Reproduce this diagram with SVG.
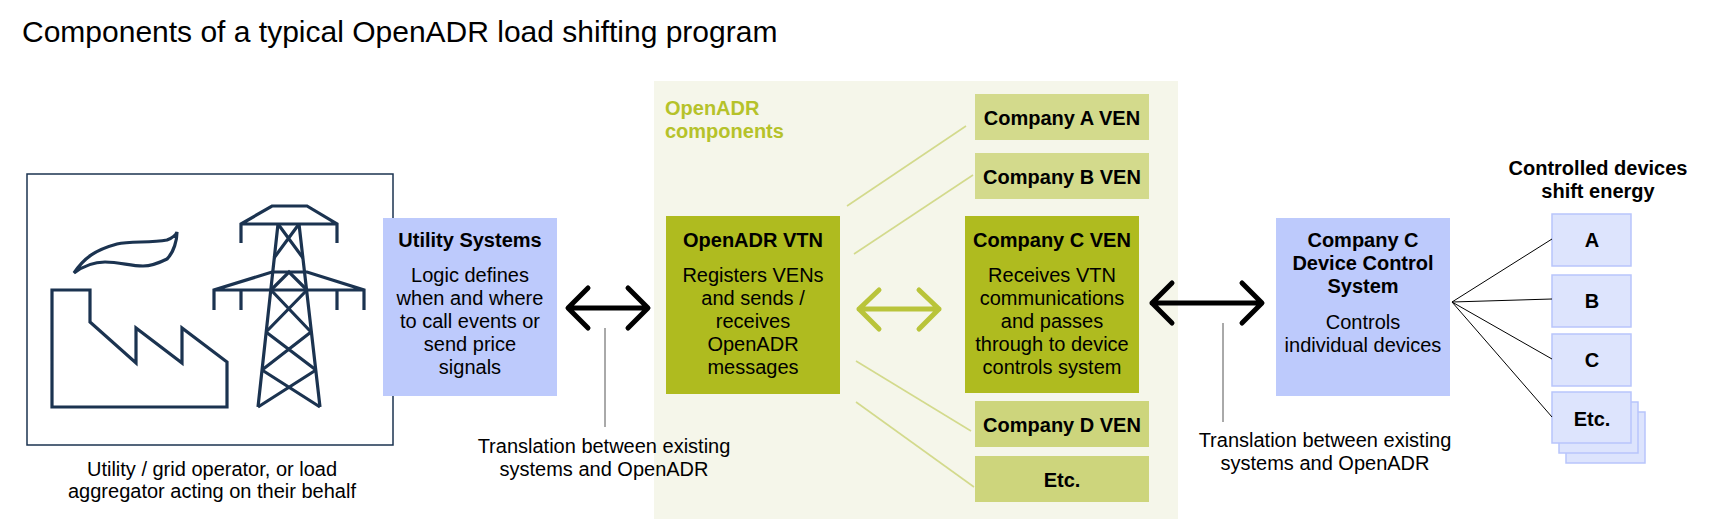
<svg xmlns="http://www.w3.org/2000/svg" width="1709" height="532" viewBox="0 0 1709 532">
<style>
text{font-family:"Liberation Sans",Arial,sans-serif;fill:#000;}
.t{font-size:20px;text-anchor:middle;}
.b{font-size:20px;font-weight:bold;text-anchor:middle;}
.icon{fill:none;stroke:#1b3350;stroke-width:3.2;stroke-linejoin:miter;}
.blue{fill:#bdcafc;}
.dark{fill:#afbb1f;}
.lightA{fill:#d3da8c;}
.lightD{fill:#cdd57c;}
.dev{fill:#dde4fd;stroke:#b8c5fb;stroke-width:1.5;}
.arrow{fill:none;stroke:#000;stroke-width:5;stroke-linecap:round;stroke-linejoin:round;}
.garrow{fill:none;stroke:#b9c43a;stroke-width:5;stroke-linecap:round;stroke-linejoin:round;}
.gline{stroke:#d3da8c;stroke-width:1.6;fill:none;}
.kline{stroke:#000;stroke-width:1;fill:none;}
.lead{stroke:#555;stroke-width:1;fill:none;}
</style>
<rect width="1709" height="532" fill="#fff"/>
<text x="22" y="42" style="font-size:30px;">Components of a typical OpenADR load shifting program</text>

<g id="openadr-region">
<rect x="654" y="81" width="524" height="438" fill="#f5f6ea"/>
<text x="665" y="115" style="font-size:20px;font-weight:bold;fill:#b5c22a;">OpenADR</text>
<text x="665" y="138" style="font-size:20px;font-weight:bold;fill:#b5c22a;">components</text>
</g>

<g id="utility-operator">
<rect x="27" y="174" width="366" height="271" fill="#fff" stroke="#1b3350" stroke-width="1.5"/>
<path class="icon" d="M52,290 L90,290 L90,322 L136,363 L136,328 L182,363 L182,328 L227,362 L227,407 L52,407 Z"/>
<path class="icon" stroke-width="2.2" d="M74,273 C84,258 95,250 117,244 C130,241 150,243 167,240 C172,238 176,235 177,232 C177,240 174,252 167,259 C157,264 148,266 143,266 C130,266 120,262 105,262 C92,262 82,267 74,273 Z"/>
<path class="icon" d="M241,243 L241,224 L272,206 L307,206 L337,224 L337,243 M241,224 L337,224"/>
<path class="icon" d="M214,310 L214,290 L272,272 L307,272 L364,290 L364,310 M214,290 L364,290 M241,290 L241,310 M337,290 L337,310"/>
<path class="icon" d="M278,224 L258,407 M299,224 L320,407"/>
<path class="icon" d="M278,224 L303,258 M299,224 L274,258 M271,290 L289,272 L307,290 M271,290 L311,332 M307,290 L266,332 M266,332 L316,370 M311,332 L262,370 M262,370 L320,407 M316,370 L258,407"/>
<text class="t" x="212" y="476">Utility / grid operator, or load</text>
<text class="t" x="212" y="498">aggregator acting on their behalf</text>
</g>

<g id="utility-systems">
<rect class="blue" x="383" y="218" width="174" height="178"/>
<text class="b" x="470" y="247">Utility Systems</text>
<text class="t" x="470" y="282">Logic defines</text>
<text class="t" x="470" y="305">when and where</text>
<text class="t" x="470" y="328">to call events or</text>
<text class="t" x="470" y="351">send price</text>
<text class="t" x="470" y="374">signals</text>
</g>

<g id="openadr-vtn">
<rect class="dark" x="666" y="216" width="174" height="178"/>
<text class="b" x="753" y="247">OpenADR VTN</text>
<text class="t" x="753" y="282">Registers VENs</text>
<text class="t" x="753" y="305">and sends /</text>
<text class="t" x="753" y="328">receives</text>
<text class="t" x="753" y="351">OpenADR</text>
<text class="t" x="753" y="374">messages</text>
</g>

<g id="company-a-ven">
<rect class="lightA" x="975" y="94" width="174" height="46"/>
<text class="b" x="1062" y="125">Company A VEN</text>
</g>
<g id="company-b-ven">
<rect class="lightA" x="975" y="153" width="174" height="46"/>
<text class="b" x="1062" y="184">Company B VEN</text>
</g>
<g id="company-c-ven">
<rect class="dark" x="965" y="216" width="174" height="177"/>
<text class="b" x="1052" y="247">Company C VEN</text>
<text class="t" x="1052" y="282">Receives VTN</text>
<text class="t" x="1052" y="305">communications</text>
<text class="t" x="1052" y="328">and passes</text>
<text class="t" x="1052" y="351">through to device</text>
<text class="t" x="1052" y="374">controls system</text>
</g>
<g id="company-d-ven">
<rect class="lightD" x="975" y="401" width="174" height="46"/>
<text class="b" x="1062" y="432">Company D VEN</text>
</g>
<g id="etc-ven">
<rect class="lightD" x="975" y="456" width="174" height="46"/>
<text class="b" x="1062" y="487">Etc.</text>
</g>

<g id="device-control-system">
<rect class="blue" x="1276" y="218" width="174" height="178"/>
<text class="b" x="1363" y="247">Company C</text>
<text class="b" x="1363" y="270">Device Control</text>
<text class="b" x="1363" y="293">System</text>
<text class="t" x="1363" y="329">Controls</text>
<text class="t" x="1363" y="352">individual devices</text>
</g>

<g id="controlled-devices">
<text class="b" x="1598" y="175">Controlled devices</text>
<text class="b" x="1598" y="198">shift energy</text>
</g>
<g id="device-a">
<rect class="dev" x="1552" y="214" width="79" height="52"/>
<text class="b" x="1592" y="247">A</text>
</g>
<g id="device-b">
<rect class="dev" x="1552" y="275" width="79" height="52"/>
<text class="b" x="1592" y="308">B</text>
</g>
<g id="device-c">
<rect class="dev" x="1552" y="334" width="79" height="52"/>
<text class="b" x="1592" y="367">C</text>
</g>
<g id="device-etc">
<rect class="dev" x="1566" y="412" width="79" height="51"/>
<rect class="dev" x="1559" y="402" width="79" height="51"/>
<rect class="dev" x="1552" y="392" width="79" height="51"/>
<text class="b" x="1592" y="426">Etc.</text>
</g>

<g id="translation-labels">
<text class="t" x="604" y="453">Translation between existing</text>
<text class="t" x="604" y="476">systems and OpenADR</text>
<text class="t" x="1325" y="447">Translation between existing</text>
<text class="t" x="1325" y="470">systems and OpenADR</text>
</g>

<g id="connectors">
<path class="arrow" d="M569,308 L647,308 M588,288 L568,308 L588,328 M628,288 L648,308 L628,328"/>
<path class="garrow" d="M859,309 L939,309 M879,290 L859,309 L879,329 M919,290 L939,309 L919,329"/>
<path class="arrow" d="M1152,303 L1261,303 M1172,283 L1152,303 L1172,323 M1242,283 L1262,303 L1242,323"/>
<line class="lead" x1="605" y1="328" x2="605" y2="427"/>
<line class="lead" x1="1223" y1="323" x2="1223" y2="422"/>
<line class="gline" x1="847" y1="206" x2="966" y2="126"/>
<line class="gline" x1="854" y1="254" x2="973" y2="175"/>
<line class="gline" x1="856" y1="361" x2="971" y2="431"/>
<line class="gline" x1="856" y1="402" x2="974" y2="487"/>
<line class="kline" x1="1452" y1="302" x2="1552" y2="239"/>
<line class="kline" x1="1452" y1="302" x2="1552" y2="299"/>
<line class="kline" x1="1452" y1="302" x2="1552" y2="359"/>
<line class="kline" x1="1452" y1="302" x2="1552" y2="417"/>
</g>
</svg>
